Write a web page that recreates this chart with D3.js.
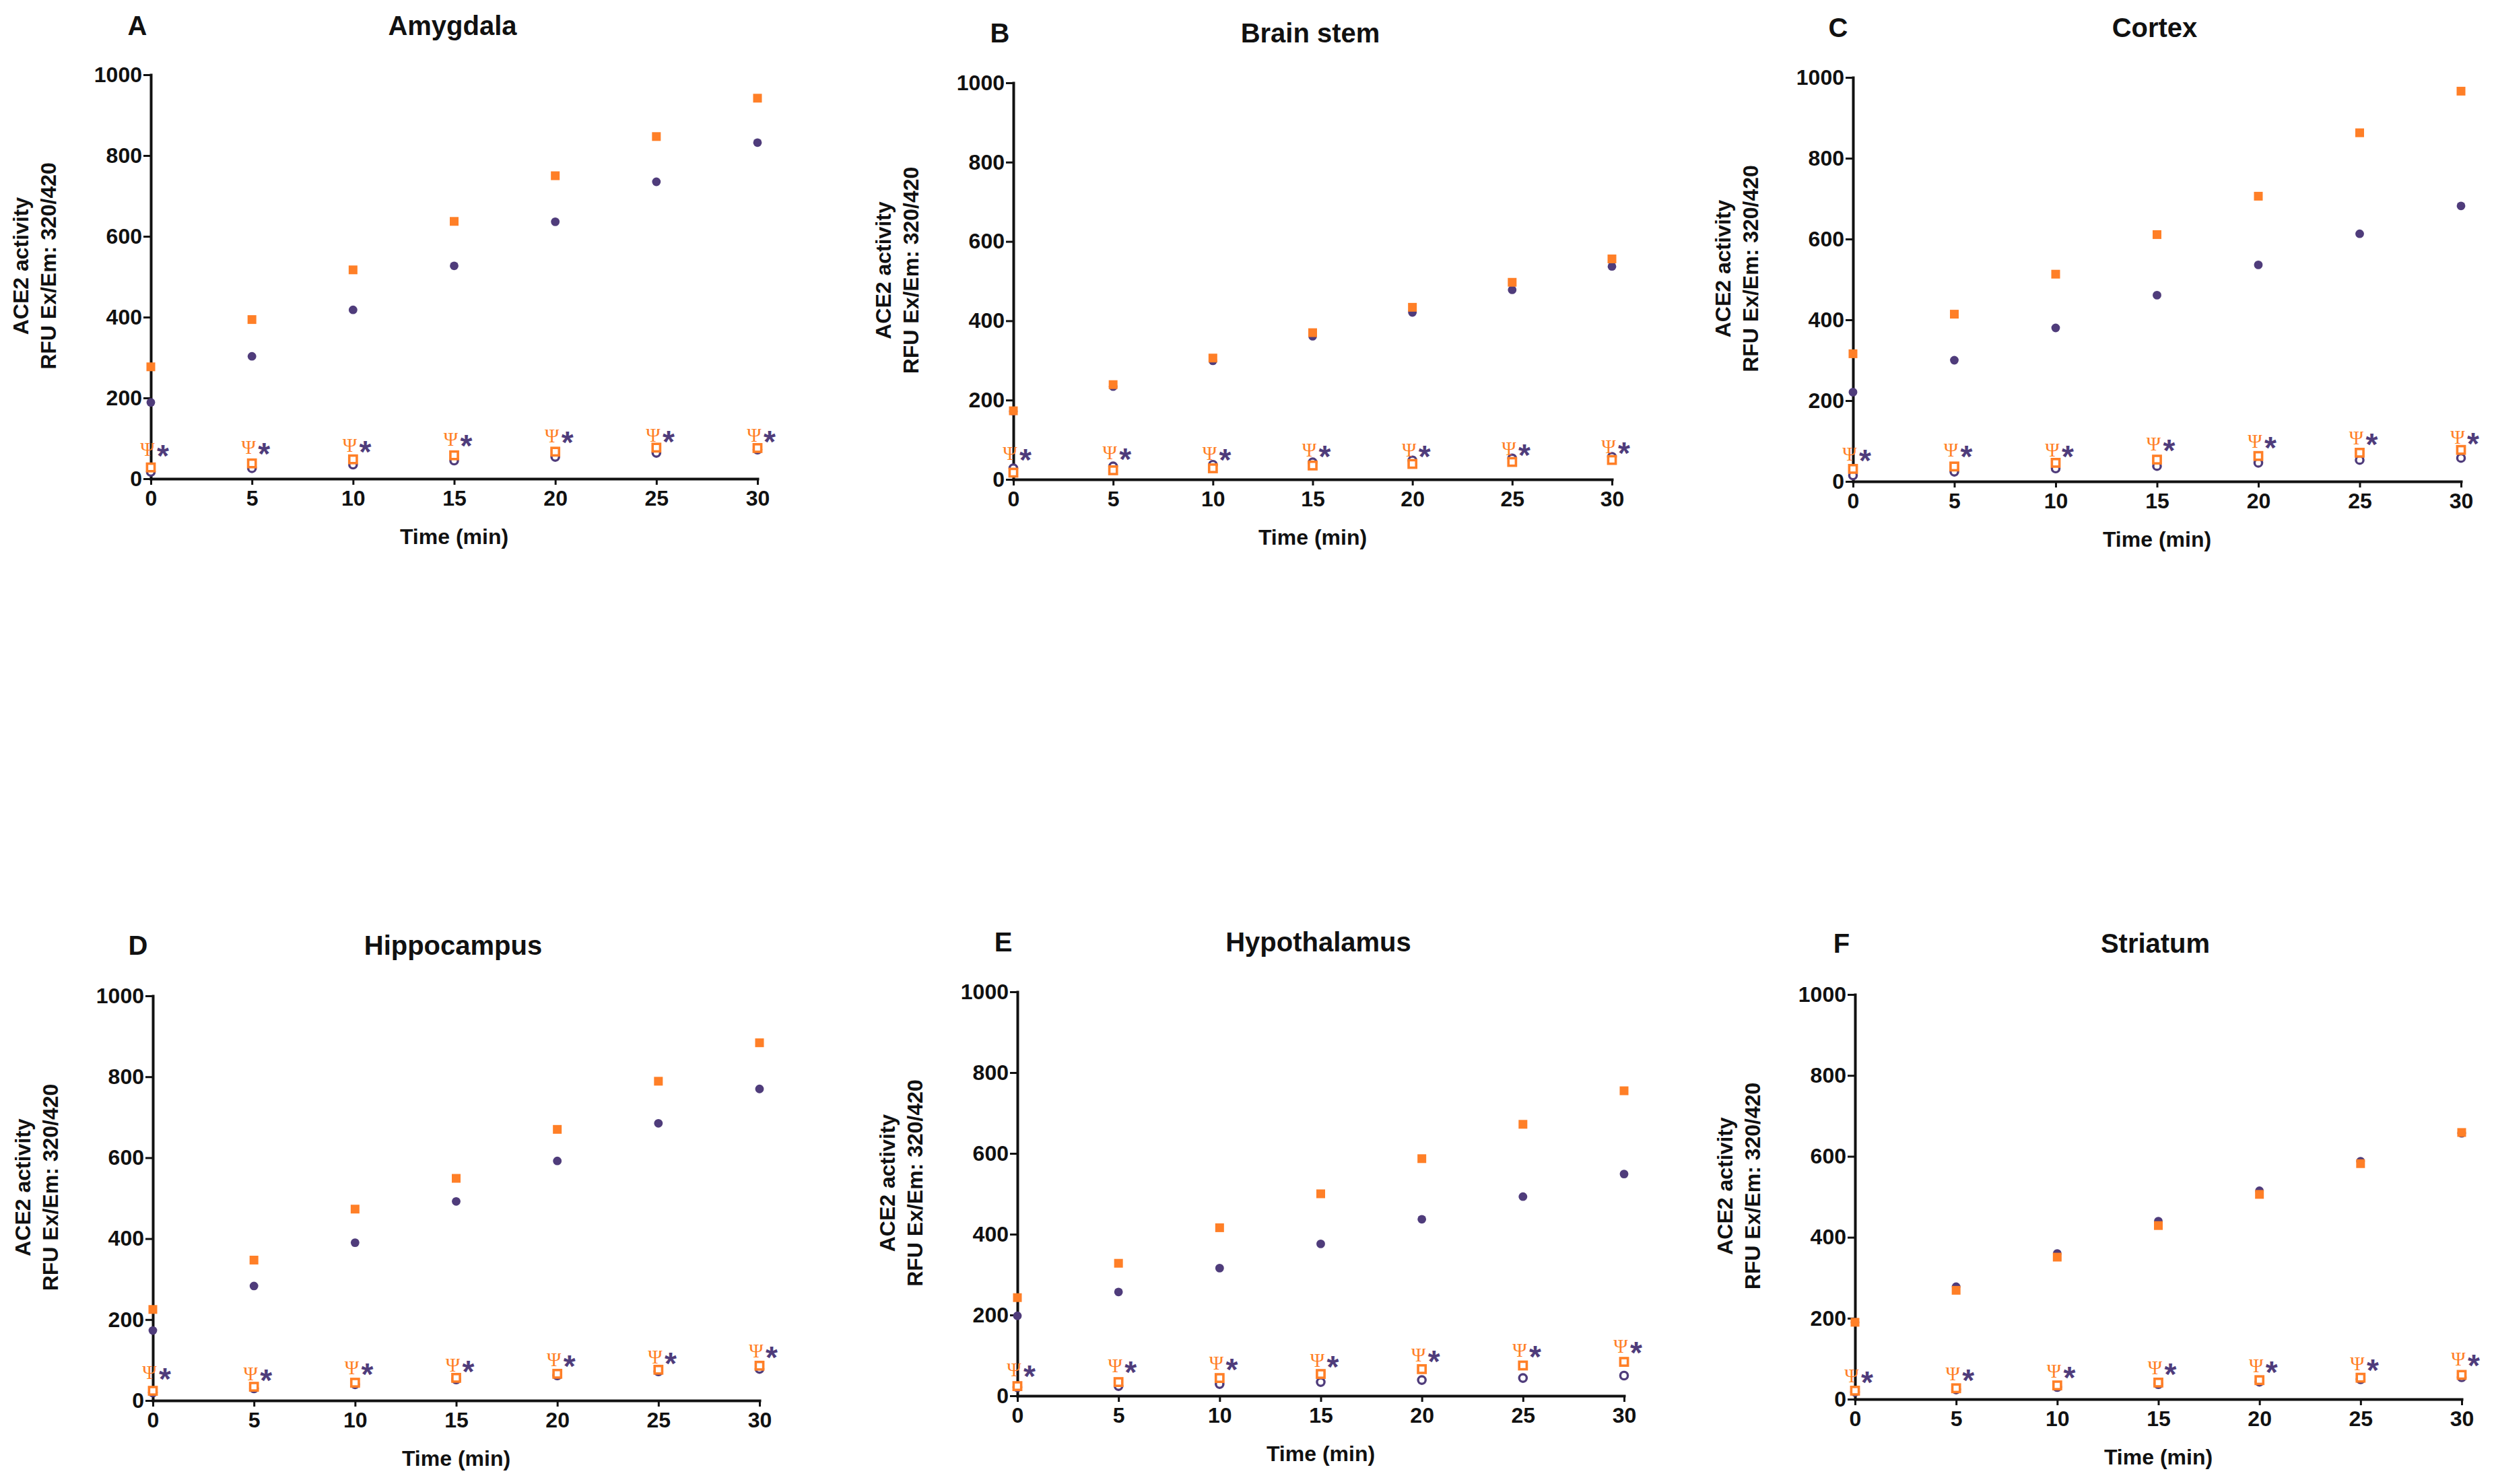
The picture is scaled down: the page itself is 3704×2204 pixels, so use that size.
<!DOCTYPE html>
<html>
<head>
<meta charset="utf-8">
<script src="https://cdn.jsdelivr.net/npm/d3@7/dist/d3.min.js"></script>
<style>
  html, body { margin: 0; padding: 0; background: #ffffff; }
  svg { display: block; }
</style>
</head>
<body>
<script>
// ---------------- DATA ----------------
const times = [0, 5, 10, 15, 20, 25, 30];
const xTicks = [0, 5, 10, 15, 20, 25, 30];
const yTicks = [0, 200, 400, 600, 800, 1000];
const panelLetters = ["A", "B", "C", "D", "E", "F"];
const regionNames = ["Amygdala", "Brain stem", "Cortex", "Hippocampus", "Hypothalamus", "Striatum"];
const xAxisTitle = "Time (min)";
const yAxisTitle = ["ACE2 activity", "RFU Ex/Em: 320/420"];

// filled orange squares
const orangeFilled = [
  [277, 394, 517, 637, 750, 847, 942],
  [173, 239, 306, 370, 434, 497, 556],
  [316, 414, 513, 611, 706, 863, 966],
  [225, 347, 473, 549, 670, 789, 884],
  [243, 328, 416, 500, 587, 672, 755],
  [190, 269, 351, 429, 506, 582, 659]
];
// filled purple circles
const purpleFilled = [
  [189, 303, 418, 527, 636, 735, 832],
  [172, 234, 299, 361, 421, 478, 537],
  [221, 300, 380, 461, 536, 613, 682],
  [173, 283, 390, 492, 592, 685, 770],
  [198, 257, 316, 376, 437, 493, 549],
  [190, 278, 360, 440, 515, 588, 657]
];
// open orange squares
const orangeOpen = [
  [28, 38, 48, 58, 67, 77, 76],
  [17, 23, 28, 35, 39, 44, 49],
  [31, 37, 46, 54, 63, 71, 78],
  [24, 34, 44, 56, 66, 76, 86],
  [24, 34, 44, 54, 66, 75, 84],
  [21, 27, 34, 41, 47, 53, 60]
];
// open purple circles
const purpleOpen = [
  [17, 26, 35, 45, 54, 64, 72],
  [28, 33, 37, 43, 48, 53, 57],
  [15, 24, 32, 38, 46, 53, 58],
  [20, 30, 40, 52, 62, 72, 78],
  [21, 24, 29, 34, 39, 44, 50],
  [18, 24, 30, 37, 43, 49, 54]
];
// height (in data units) of the significance marks "Ψ *"
const markLevel = [
  [71, 77, 82, 96, 105, 106, 106],
  [64, 66, 65, 73, 73, 76, 82],
  [67, 76, 76, 92, 98, 106, 108],
  [68, 65, 80, 86, 100, 107, 122],
  [63, 73, 80, 86, 100, 111, 121],
  [56, 62, 68, 77, 81, 86, 99]
];
const markPsi = "Ψ";
const markStar = "*";

// ---------------- LAYOUT ----------------
const W = 3704, H = 2204;
const layout = [
  { x0: 224,  x1: 1125, y0: 711,  y1: 111,  letterX: 204,  titleX: 672,  titleY: 52 },
  { x0: 1505, x1: 2394, y0: 712,  y1: 123,  letterX: 1485, titleX: 1946, titleY: 63 },
  { x0: 2752, x1: 3655, y0: 715,  y1: 115,  letterX: 2730, titleX: 3200, titleY: 55 },
  { x0: 227,  x1: 1128, y0: 2080, y1: 1479, letterX: 205,  titleX: 673,  titleY: 1418 },
  { x0: 1511, x1: 2412, y0: 2073, y1: 1473, letterX: 1490, titleX: 1958, titleY: 1413 },
  { x0: 2755, x1: 3656, y0: 2078, y1: 1477, letterX: 2735, titleX: 3201, titleY: 1415 }
];

const ORANGE = "#FF7F27";
const PURPLE = "#4F3C7B";
const FONT = "'Liberation Sans', Arial, Helvetica, sans-serif";
const SERIF = "'Liberation Serif', 'DejaVu Serif', 'Times New Roman', serif";

const svg = d3.select("body").append("svg")
  .attr("width", W).attr("height", H)
  .attr("viewBox", `0 0 ${W} ${H}`);
svg.append("rect").attr("width", W).attr("height", H).attr("fill", "#ffffff");

layout.forEach((L, i) => {
  const g = svg.append("g").attr("class", "panel");
  const x = d3.scaleLinear().domain([0, 30]).range([L.x0, L.x1]);
  const y = d3.scaleLinear().domain([0, 1000]).range([L.y0, L.y1]);

  // panel letter & title
  g.append("text").attr("x", L.letterX).attr("y", L.titleY)
    .attr("text-anchor", "middle").attr("font-family", FONT)
    .attr("font-weight", "bold").attr("font-size", 40).attr("fill", "#111")
    .text(panelLetters[i]);
  g.append("text").attr("x", L.titleX).attr("y", L.titleY)
    .attr("text-anchor", "middle").attr("font-family", FONT)
    .attr("font-weight", "bold").attr("font-size", 40).attr("fill", "#111")
    .text(regionNames[i]);

  // axes
  const fmt = d3.format("d");
  const yAxis = d3.axisLeft(y).tickValues(yTicks).tickFormat(fmt).tickSize(11).tickSizeOuter(0).tickPadding(2);
  const xAxis = d3.axisBottom(x).tickValues(xTicks).tickFormat(fmt).tickSize(9).tickSizeOuter(0).tickPadding(8);

  const gy = g.append("g").attr("transform", `translate(${L.x0},0)`).call(yAxis);
  const gx = g.append("g").attr("transform", `translate(0,${L.y0})`).call(xAxis);
  [gx, gy].forEach(ax => {
    ax.select(".domain").attr("stroke", "#111").attr("stroke-width", 4).attr("stroke-linecap", "square");
    ax.selectAll(".tick line").attr("stroke", "#111").attr("stroke-width", 3);
    ax.selectAll(".tick text").attr("font-family", FONT).attr("font-weight", "bold")
      .attr("font-size", 32).attr("fill", "#111");
  });

  // axis titles
  g.append("text").attr("x", (L.x0 + L.x1) / 2).attr("y", L.y0 + 97)
    .attr("text-anchor", "middle").attr("font-family", FONT)
    .attr("font-weight", "bold").attr("font-size", 32).attr("fill", "#111")
    .text(xAxisTitle);
  const cy = (L.y0 + L.y1) / 2 - 16;
  [-182, -141].forEach((dx, k) => {
    g.append("text")
      .attr("transform", `translate(${L.x0 + dx},${cy}) rotate(-90)`)
      .attr("text-anchor", "middle").attr("font-family", FONT)
      .attr("font-weight", "bold").attr("font-size", 32).attr("fill", "#111")
      .text(yAxisTitle[k]);
  });

  const pts = arr => times.map((t, j) => ({ t, v: arr[i][j] }));

  // filled purple circles
  g.selectAll(null).data(pts(purpleFilled)).enter().append("circle")
    .attr("cx", d => x(d.t)).attr("cy", d => y(d.v)).attr("r", 6.4)
    .attr("fill", PURPLE);
  // filled orange squares
  g.selectAll(null).data(pts(orangeFilled)).enter().append("rect")
    .attr("x", d => x(d.t) - 6.5).attr("y", d => y(d.v) - 6.5)
    .attr("width", 13).attr("height", 13).attr("fill", ORANGE);
  // open purple circles
  g.selectAll(null).data(pts(purpleOpen)).enter().append("circle")
    .attr("cx", d => x(d.t)).attr("cy", d => y(d.v)).attr("r", 5.6)
    .attr("fill", "#fff").attr("stroke", PURPLE).attr("stroke-width", 3.4);
  // open orange squares
  g.selectAll(null).data(pts(orangeOpen)).enter().append("rect")
    .attr("x", d => x(d.t) - 5.6).attr("y", d => y(d.v) - 5.6)
    .attr("width", 11.2).attr("height", 11.2)
    .attr("fill", "#fff").attr("stroke", ORANGE).attr("stroke-width", 3.6);

  // significance marks
  const marks = pts(markLevel);
  g.selectAll(null).data(marks).enter().append("text")
    .attr("x", d => x(d.t) - 5).attr("y", d => y(d.v) + 9)
    .attr("text-anchor", "middle").attr("font-family", SERIF)
    .attr("font-size", 29).attr("fill", ORANGE).text(markPsi);
  g.selectAll(null).data(marks).enter().append("text")
    .attr("x", d => x(d.t) + 18).attr("y", d => y(d.v) + 25)
    .attr("text-anchor", "middle").attr("font-family", FONT).attr("font-weight", "bold")
    .attr("font-size", 46).attr("fill", PURPLE).text(markStar);
});
</script>
</body>
</html>
